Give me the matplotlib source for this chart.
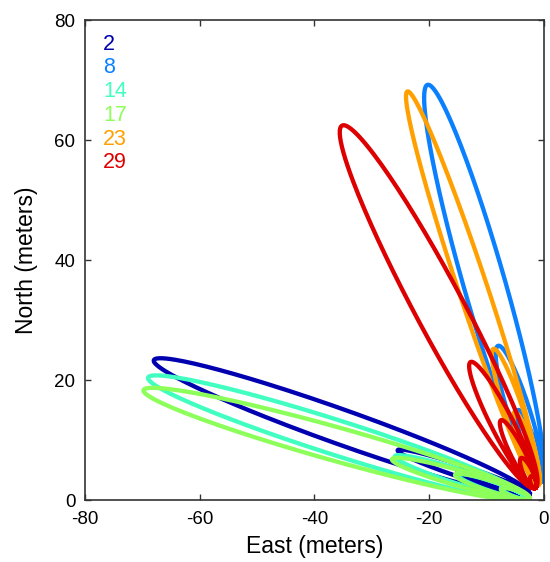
import numpy as np
import matplotlib
matplotlib.use("Agg")
import matplotlib.pyplot as plt

plt.rcParams['font.family'] = ['Liberation Sans', 'DejaVu Sans']
plt.rcParams['axes.unicode_minus'] = False

# days shown and their colours
days = ['2', '8', '14', '17', '23', '29']
colors = ['#0000B0', '#0A80FF', '#40FFC0', '#8CFF5A', '#FFA000', '#DD0000']

# start point of each day's excursions (east, north) in meters
base_east = [-2.5, -0.5, -3.0, -2.5, -1.0, -1.5]
base_north = [1.0, 3.0, 0.3, 0.3, 2.5, 2.0]

# far end of each excursion loop, and the loop half-width (meters)
tip_east = [
    [-68.0, -25.5, -15.1, -7.5],
    [-20.3, -8.0, -4.5, -2.5],
    [-69.0, -26.0, -15.1, -7.5],
    [-69.8, -26.5, -15.5, -7.5],
    [-23.8, -8.8, -5.1, -2.8],
    [-35.2, -12.8, -7.5, -4.0, -2.2],
]
tip_north = [
    [23.3, 8.3, 5.0, 2.5],
    [69.2, 25.7, 15.0, 8.0],
    [20.4, 7.3, 4.2, 2.0],
    [18.3, 6.8, 4.2, 1.8],
    [68.1, 25.2, 14.7, 8.0],
    [62.4, 23.0, 13.3, 7.0, 4.0],
]
half_width = [
    [2.9, 1.0, 0.7, 0.5],
    [3.6, 1.9, 1.1, 0.7],
    [2.9, 1.2, 0.8, 0.5],
    [2.8, 1.3, 0.9, 0.6],
    [2.5, 1.6, 1.0, 0.6],
    [4.2, 1.9, 1.2, 0.8, 0.5],
]


def track(bx, by, txs, tys, ws):
    # chain of narrow loops, each leaving the base point and coming back
    th = np.linspace(np.pi, 3 * np.pi, 200)
    xs, ys = [], []
    for tx, ty, w in zip(txs, tys, ws):
        dx, dy = tx - bx, ty - by
        L = np.hypot(dx, dy)
        ux, uy = dx / L, dy / L
        cx, cy = bx + dx / 2, by + dy / 2
        xs.append(cx + L / 2 * np.cos(th) * ux - w * np.sin(th) * uy)
        ys.append(cy + L / 2 * np.cos(th) * uy + w * np.sin(th) * ux)
    return np.concatenate(xs), np.concatenate(ys)


fig = plt.figure(figsize=(5.5, 5.62), dpi=100)
ax = fig.add_axes([0.1545, 0.1103, 0.8345, 0.854])

for i in range(len(days)):
    x, y = track(base_east[i], base_north[i], tip_east[i], tip_north[i], half_width[i])
    ax.plot(x, y, color=colors[i], lw=3.1, solid_joinstyle='round')
    ax.text(0.039, 0.95 - 0.0495 * i, days[i], color=colors[i], fontsize=15.5,
            va='center', ha='left', transform=ax.transAxes)

ax.set_xlim(-80, 0)
ax.set_ylim(0, 80)
ax.set_xticks([-80, -60, -40, -20, 0])
ax.set_yticks([0, 20, 40, 60, 80])
ax.tick_params(direction='in', length=4, width=1, labelsize=13.5, top=True, right=True,
               color='#333333')
ax.tick_params(axis='x', pad=8)
ax.tick_params(axis='y', pad=7)
for s in ax.spines.values():
    s.set_color('#333333')
    s.set_linewidth(1.2)
ax.set_xlabel('East (meters)', fontsize=16.5, labelpad=5)
ax.set_ylabel('North (meters)', fontsize=16.5, labelpad=12)

fig.savefig('out.png', dpi=100)
